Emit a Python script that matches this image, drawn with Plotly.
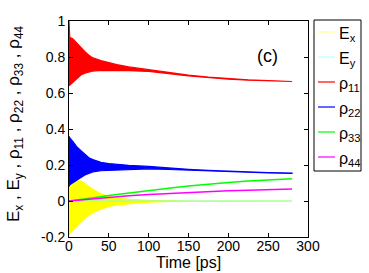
import plotly.graph_objects as go

# Time grid (ps) for envelope readings
t = [0, 1, 5, 10, 15, 20, 25, 30, 40, 50, 60, 75, 100, 125, 150, 175, 200, 225, 250, 280]

# rho_11 oscillation envelope
rho11_upper = [1.0, 0.91, 0.90, 0.875, 0.85, 0.83, 0.81, 0.795, 0.78, 0.768, 0.758, 0.745, 0.730, 0.713, 0.699, 0.688, 0.679, 0.673, 0.669, 0.666]
rho11_lower = [0.64, 0.645, 0.66, 0.68, 0.70, 0.71, 0.717, 0.722, 0.726, 0.726, 0.726, 0.724, 0.720, 0.708, 0.695, 0.685, 0.677, 0.671, 0.667, 0.664]

# rho_22 oscillation envelope
rho22_upper = [0.36, 0.35, 0.33, 0.30, 0.28, 0.26, 0.24, 0.23, 0.215, 0.208, 0.203, 0.198, 0.192, 0.183, 0.176, 0.170, 0.165, 0.161, 0.158, 0.155]
rho22_lower = [0.08, 0.09, 0.10, 0.115, 0.13, 0.145, 0.155, 0.162, 0.168, 0.172, 0.174, 0.175, 0.179, 0.175, 0.170, 0.166, 0.162, 0.159, 0.156, 0.153]

# E_x oscillation envelope
ex_upper = [0.08, 0.085, 0.095, 0.113, 0.11, 0.095, 0.08, 0.065, 0.04, 0.025, 0.016, 0.009, 0.004, 0.001, 0.0, 0.0, 0.0, 0.0, 0.0, 0.0]
ex_lower = [-0.19, -0.18, -0.16, -0.135, -0.115, -0.095, -0.078, -0.065, -0.045, -0.03, -0.021, -0.013, -0.006, -0.002, 0.0, 0.0, 0.0, 0.0, 0.0, 0.0]

# E_y (stays at zero)
ey = [0.0] * len(t)

# rho_33 and rho_44
rho33 = [0.0, 0.0005, 0.0025, 0.005, 0.009, 0.012, 0.015, 0.018, 0.024, 0.030, 0.036, 0.045, 0.058, 0.071, 0.083, 0.094, 0.103, 0.111, 0.117, 0.123]
rho44 = [0.0, 0.0004, 0.002, 0.004, 0.007, 0.009, 0.011, 0.013, 0.017, 0.021, 0.024, 0.029, 0.036, 0.042, 0.048, 0.053, 0.057, 0.060, 0.063, 0.066]

names = ["E<sub>x</sub>", "E<sub>y</sub>", "ρ<sub>11</sub>", "ρ<sub>22</sub>", "ρ<sub>33</sub>", "ρ<sub>44</sub>"]
colors = ["#ffff00", "#00ffff", "#ff0000", "#0000ff", "#00ff00", "#ff00ff"]
legend_colors = ["#ffff99", "#bbffff", "#ff0000", "#0000ff", "#00ff00", "#ff00ff"]

x_ticks = [0, 50, 100, 150, 200, 250, 300]
y_ticks = [-0.2, 0, 0.2, 0.4, 0.6, 0.8, 1]
y_ticktext = ["-0.2", "0", "0.2", "0.4", "0.6", "0.8", "1"]

FONT = "Liberation Sans, Arial"
W, H = 369, 273
ML, MR, MT, MB = 69, 61, 21, 36
PW, PH = W - ML - MR, H - MT - MB


def px(x):
    return (x - ML) / PW


def py(y):
    return (H - MB - y) / PH


fig = go.Figure()


def band(upper, lower, color, name):
    fig.add_trace(go.Scatter(
        x=t + t[::-1], y=upper + lower[::-1], fill="toself", fillcolor=color, name=name,
        mode="lines", line=dict(color=color, width=1.2), showlegend=False, hoverinfo="skip"))


band(ex_upper, ex_lower, colors[0], names[0])
fig.add_trace(go.Scatter(x=t, y=ey, mode="lines", name=names[1], line=dict(color="#80ffdd", width=1.2), showlegend=False))
band(rho11_upper, rho11_lower, colors[2], names[2])
band(rho22_upper, rho22_lower, colors[3], names[3])
fig.add_trace(go.Scatter(x=t, y=rho33, mode="lines", name=names[4], line=dict(color=colors[4], width=1.5), showlegend=False))
fig.add_trace(go.Scatter(x=t, y=rho44, mode="lines", name=names[5], line=dict(color=colors[5], width=1.5), showlegend=False))

axis_common = dict(showline=True, linecolor="black", linewidth=1, mirror="ticks", ticks="inside",
                   ticklen=4, tickcolor="black", showgrid=False, zeroline=False, automargin=False,
                   tickfont=dict(family=FONT, size=14, color="black"))

# custom legend (box, line samples, labels)
shapes = [dict(type="rect", xref="paper", yref="paper", x0=px(314), x1=px(361), y0=py(171), y1=py(20),
               line=dict(color="black", width=1), fillcolor="white", layer="above")]
annotations = []
entry_y = [32, 57, 82, 107, 132, 157]
for n, c, yy in zip(names, legend_colors, entry_y):
    shapes.append(dict(type="line", xref="paper", yref="paper", x0=px(318), x1=px(335), y0=py(yy), y1=py(yy),
                       line=dict(color=c, width=1.2), layer="above"))
    annotations.append(dict(text=n, x=px(337), y=py(yy + 2), xref="paper", yref="paper", showarrow=False,
                            xanchor="left", yanchor="middle", font=dict(family=FONT, size=16, color="black")))

annotations += [
    dict(text="(c)", x=px(280), y=py(44), xref="paper", yref="paper", showarrow=False,
         font=dict(family=FONT, size=18, color="black")),
    dict(text="Time [ps]", x=px(188.5), y=py(262), xref="paper", yref="paper", showarrow=False,
         yanchor="middle", font=dict(family=FONT, size=16, color="black")),
    dict(text="E<sub>x</sub> , E<sub>y</sub> , ρ<sub>11</sub> , ρ<sub>22</sub> , ρ<sub>33</sub> , ρ<sub>44</sub>",
         x=px(15), y=py(124), xref="paper", yref="paper", showarrow=False, textangle=-90,
         xanchor="center", yanchor="middle", font=dict(family=FONT, size=17, color="black")),
]

fig.update_layout(
    width=W, height=H,
    margin=dict(l=ML, r=MR, t=MT, b=MB, autoexpand=False),
    plot_bgcolor="white", paper_bgcolor="white",
    showlegend=False,
    xaxis=dict(range=[0, 300], tickvals=x_ticks, ticklabelstandoff=-4, **axis_common),
    yaxis=dict(range=[-0.2, 1], tickvals=y_ticks, ticktext=y_ticktext, **axis_common),
    shapes=shapes,
    annotations=annotations,
)

fig.write_html("out.html", config={"displayModeBar": False},
               post_script="document.body.style.margin='0';document.body.style.padding='0';")
